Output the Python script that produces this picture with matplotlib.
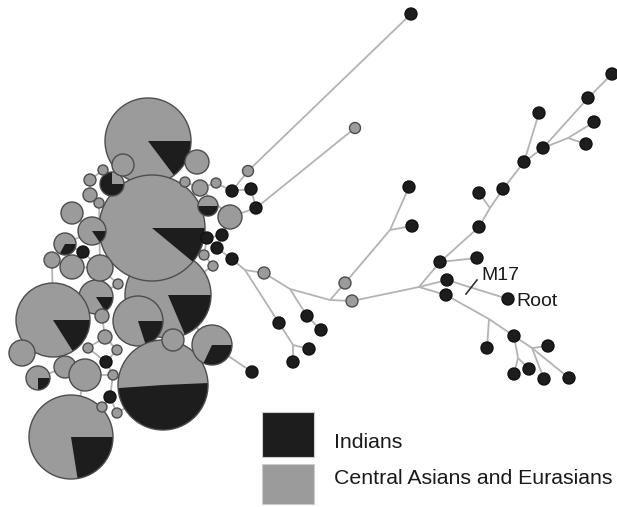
import matplotlib
matplotlib.use("Agg")
import matplotlib.pyplot as plt
from matplotlib.patches import Circle, Wedge, Rectangle

# ── Haplotype network (pixel layout, y grows downward) ─────────
# one entry per node: position, radius, Indian share of the pie,
# clockwise start angle of the Indian slice; r = 0 marks a branch point
node_x = [
    96, 168, 148, 152, 138, 53, 71, 163, 212,            # 0-8 large pies
    112, 208, 92, 65, 38, 102,                           # 9-14 small pies
    123, 103, 90, 197, 185, 200, 216, 248, 90, 99,       # 15-24 grey
    72, 230, 204, 213, 52, 72, 100, 118, 22, 65,         # 25-34 grey
    85, 105, 88, 117, 113, 102, 117, 173,                # 35-42 grey
    83, 232, 251, 256, 207, 222, 217, 232, 106, 110, 252,  # 43-53 black
    411, 355, 264, 345, 352,                             # 54-58
    245, 290, 330, 307, 321, 279, 293, 309, 293,         # 59-67
    390, 409, 412, 419, 440, 479, 490, 479, 503, 524,    # 68-77
    539, 543, 588, 612, 568, 594, 586, 477, 447, 508,    # 78-87
    446, 489, 487, 514, 532, 548, 544, 569, 514, 529, 518,  # 88-98
]
node_y = [
    297, 295, 141, 228, 321, 320, 437, 385, 345,
    184, 206, 231, 244, 378, 316,
    165, 170, 180, 162, 182, 188, 183, 171, 195, 203,
    213, 217, 255, 266, 260, 267, 268, 284, 353, 367,
    375, 337, 348, 350, 375, 407, 413, 340,
    252, 191, 189, 208, 238, 235, 248, 259, 362, 397, 372,
    14, 128, 273, 283, 301,
    270, 289, 300, 316, 330, 323, 345, 349, 362,
    230, 187, 226, 287, 262, 227, 208, 193, 189, 162,
    113, 148, 98, 74, 138, 122, 144, 258, 280, 299,
    295, 319, 348, 336, 348, 346, 379, 378, 374, 369, 358,
]
node_r = [
    17, 43, 43, 53, 25, 37, 42, 45, 20,
    12, 10, 14, 11, 12, 7,
    11, 5, 6, 12, 5, 8, 5, 5.5, 7, 5,
    11, 12, 5, 5, 8, 12, 13, 5, 13, 11,
    16, 7, 5, 5, 5, 5, 5, 11,
    6, 6, 6, 6, 6, 6, 6, 6, 6, 6, 6,
    6, 5.5, 6, 6, 6,
    0, 0, 0, 6, 6, 6, 0, 6, 6,
    0, 6, 6, 0, 6, 6, 0, 6, 6, 6,
    6, 6, 6, 6, 0, 6, 6, 6, 6, 6,
    6, 0, 6, 6, 0, 6, 6, 6, 6, 6, 0,
]
indian_share = [
    0.16, 0.186, 0.147, 0.11, 0.2, 0.16, 0.225, 0.496, 0.32,
    0.75, 0.5, 0.155, 0.33, 0.25, 0,
] + [0] * 28 + [1] * 11 + [
    1, 0, 0, 0, 0,
    0, 0, 0, 1, 1, 1, 0, 1, 1,
    0, 1, 1, 0, 1, 1, 0, 1, 1, 1,
    1, 1, 1, 1, 0, 1, 1, 1, 1, 1,
    1, 0, 1, 1, 0, 1, 1, 1, 1, 1, 0,
]
wedge_start = [0] * len(node_x)
wedge_start[7] = -2.5

edges = [
    # cluster
    (3, 2), (3, 1), (2, 18), (2, 15), (15, 9), (9, 16), (16, 17), (17, 23),
    (23, 24), (24, 31), (31, 32), (25, 11), (11, 12), (12, 43), (43, 31),
    (43, 30), (30, 29), (30, 31), (29, 5), (32, 0), (0, 14), (14, 36),
    (36, 37), (36, 38), (37, 51), (38, 51), (51, 39), (39, 52), (52, 40),
    (52, 41), (40, 6), (41, 7), (35, 34), (35, 39), (35, 6), (33, 5),
    (34, 5), (13, 34), (42, 4), (42, 7), (42, 1), (4, 1), (8, 1), (8, 7),
    (10, 3), (19, 20), (20, 21), (21, 44), (20, 26), (26, 46), (47, 48),
    (48, 49), (49, 50), (47, 27), (27, 28), (28, 1), (48, 26), (22, 44),
    (44, 45), (45, 46),
    # outgoing branches
    (22, 54), (46, 55), (8, 53),
    (50, 59), (59, 56), (59, 64), (64, 65), (65, 66), (65, 67),
    (56, 60), (60, 62), (62, 63), (60, 61), (61, 57), (61, 58),
    (57, 68), (68, 69), (68, 70),
    (58, 71), (71, 72), (72, 73), (73, 74), (74, 75), (74, 76), (76, 77),
    (77, 78), (77, 79), (79, 80), (80, 81), (79, 82), (82, 83), (82, 84),
    (72, 85), (71, 86), (86, 87),
    (71, 88), (88, 89), (89, 90), (89, 91), (91, 92), (92, 93), (92, 94),
    (92, 95), (91, 98), (98, 96), (98, 97),
]

GREY = "#9b9b9b"
BLACK = "#1d1d1d"
OUTLINE = "#4d4d4d"
LINK = "#b3b3b3"

LEGEND_LABELS = ["Indians", "Central Asians and Eurasians"]

plt.rcParams["font.family"] = ["Liberation Sans", "DejaVu Sans"]

fig = plt.figure(figsize=(6.17, 5.07), dpi=100)
ax = fig.add_axes([0, 0, 1, 1])
ax.set_xlim(0, 617)
ax.set_ylim(507, 0)
ax.axis("off")

# links first so the nodes sit on top
for a, b in edges:
    ax.plot([node_x[a], node_x[b]], [node_y[a], node_y[b]],
            color=LINK, lw=1.3, zorder=1, solid_capstyle="butt")

# nodes as small pies: grey disc, black Indian slice, outline
for i, (x, y, r) in enumerate(zip(node_x, node_y, node_r)):
    if r == 0:
        continue
    z = 2 + i * 0.01
    share = indian_share[i]
    base = BLACK if share >= 1 else GREY
    ax.add_patch(Circle((x, y), r, facecolor=base, edgecolor="none", zorder=z))
    if 0 < share < 1:
        t0 = wedge_start[i]
        ax.add_patch(Wedge((x, y), r, t0, t0 + 360 * share,
                           facecolor=BLACK, edgecolor="none", zorder=z))
    edge = "#111111" if share >= 1 else OUTLINE
    ax.add_patch(Circle((x, y), r, facecolor="none", edgecolor=edge,
                        lw=1.0, zorder=z))

# mutation tick on the root branch and labels
ax.plot([466, 477], [294, 280], color="#333333", lw=1.2, zorder=3)
ax.text(481, 276, "M17", fontsize=14, va="center", ha="left", color="#1a1a1a")
ax.text(516, 301, "Root", fontsize=14, va="center", ha="left", color="#1a1a1a")

# legend
box_tops = [412, 464]
box_heights = [45, 40]
label_y = [442, 478]
for col, label, top, h, ty in zip([BLACK, GREY], LEGEND_LABELS,
                                  box_tops, box_heights, label_y):
    ax.add_patch(Rectangle((262, top), 52, h, facecolor=col,
                           edgecolor="#cccccc", lw=0.8, zorder=3))
    ax.text(334, ty, label, fontsize=15.3, va="center", ha="left",
            color="#1a1a1a")

fig.savefig("out.png", dpi=100, facecolor="white")
